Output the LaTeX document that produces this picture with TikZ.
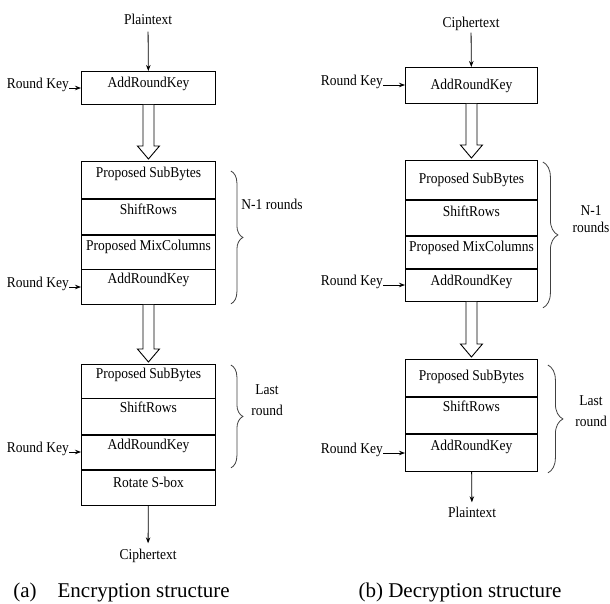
\documentclass[tikz,border=0pt]{standalone}
\usepackage{fontspec}
\setmainfont{Liberation Serif}
\newfontfamily\boxfont{Liberation Serif}[FakeStretch=0.9]
\usetikzlibrary{calc,positioning,arrows.meta,decorations.pathreplacing}
\tikzset{cell/.style 2 args={draw, line width=0.9pt, anchor=north west, inner sep=0pt, text height=#1, text depth=#2, font=\boxfont\fontsize{15}{17}\selectfont}}
\tikzstyle{enc}    = [minimum width=134pt]
\tikzstyle{dec}    = [minimum width=132pt]
\tikzstyle{txt}    = [inner sep=0pt, text height=10pt, text depth=1pt, font=\boxfont\fontsize{15}{17}\selectfont]
\tikzstyle{key}    = [txt, anchor=base east]
\tikzstyle{arrow}  = [line width=0.8pt, -{Stealth[length=6pt,width=4.5pt]}]
\tikzstyle{hollow} = [draw, line width=0.9pt, fill=white, line join=miter]
\tikzstyle{brc}    = [draw=black!75, line width=0.8pt, decorate]
\tikzstyle{caption}= [inner sep=0pt, font=\fontsize{21}{24}\selectfont]

\begin{document}
\begin{tikzpicture}[x=1pt, y=-1pt]
    \useasboundingbox (0,0) rectangle (610,603);
    % encryption
    \node[txt] (ept) at (148,20) {Plaintext};
    \node[cell={16.5pt}{16.5pt}, enc] (e0) at (81,71)    {AddRoundKey};
    \node[cell={16.5pt}{20pt}, enc]   (e1) at (81,161)   {Proposed SubBytes};
    \node[cell={16pt}{19.5pt}, enc]   (e2) at (81,198.5) {ShiftRows};
    \node[cell={15.5pt}{18.5pt}, enc] (e3) at (81,235)   {Proposed MixColumns};
    \node[cell={14.5pt}{20.5pt}, enc] (e4) at (81,269)   {AddRoundKey};
    \node[cell={14.5pt}{19.5pt}, enc] (e5) at (81,364)   {Proposed SubBytes};
    \node[cell={14.5pt}{21.5pt}, enc] (e6) at (81,398)   {ShiftRows};
    \node[cell={14.5pt}{19.5pt}, enc] (e7) at (81,435)   {AddRoundKey};
    \node[cell={17.5pt}{17.5pt}, enc] (e8) at (81,470)   {Rotate S-box};
    \node[txt] (ect) at (148,555) {Ciphertext};

    \node[key] (ek0) at (69,88)  {Round Key};
    \node[key] (ek1) at (69,287) {Round Key};
    \node[key] (ek2) at (69,452) {Round Key};

    \node[txt] (en) at (272,205) {N-1 rounds};
    \node[txt, align=center] (el) at (267,410.5) {Last\\[4pt]round};

    % decryption
    \node[txt] (dct) at (471,23) {Ciphertext};
    \node[cell={22.5pt}{13.5pt}, dec] (d0) at (405,67)  {AddRoundKey};
    \node[cell={23.5pt}{15.5pt}, dec] (d1) at (405,160) {Proposed SubBytes};
    \node[cell={16.5pt}{18.5pt}, dec] (d2) at (405,200) {ShiftRows};
    \node[cell={15.5pt}{16.5pt}, dec] (d3) at (405,236) {Proposed MixColumns};
    \node[cell={16.5pt}{15.5pt}, dec] (d4) at (405,269) {AddRoundKey};
    \node[cell={21.5pt}{15.5pt}, dec] (d5) at (405,359) {Proposed SubBytes};
    \node[cell={14.5pt}{21.5pt}, dec] (d6) at (405,397) {ShiftRows};
    \node[cell={16.5pt}{20.5pt}, dec] (d7) at (405,434) {AddRoundKey};
    \node[txt] (dpt) at (472,513) {Plaintext};

    \node[key] (dk0) at (383,85)  {Round Key};
    \node[key] (dk1) at (383,285) {Round Key};
    \node[key] (dk2) at (383,453) {Round Key};

    \node[txt, align=center] (dn) at (591,228) {N-1\\[0pt]rounds};
    \node[txt, align=center] (dl) at (591,421.5) {Last\\[4pt]round};

    \node[caption] (ea) at (121.5,592) {(a)\quad Encryption structure};
    \node[caption] (db) at (460,592) {(b) Decryption structure};

    % arrows
    \draw[arrow, shorten <=6pt] (ept) -- (e0);
    \draw[arrow, shorten >=6pt] (e8) -- (ect);
    \draw[arrow, shorten <=4pt] (dct) -- (d0);
    \draw[arrow, shorten >=5pt] (d7) -- (dpt);
    \foreach \k/\c in {ek0/e0,ek1/e4,ek2/e7,dk0/d0,dk1/d4,dk2/d7}
        \draw[arrow] (\k.base east) -- (\k.base east -| \c.west);
    \foreach \a/\b in {e0/e1,e4/e5,d0/d1,d4/d5}
        \draw[hollow] ($(\a.south)+(-5.5,0)$) -- ($(\b.north)+(-5.5,-15)$) -- ++(-5.5,0)
            -- ($(\b.north)+(0,-2)$) -- ($(\b.north)+(11,-15)$) -- ++(-5.5,0) -- ($(\a.south)+(5.5,0)$);

    % braces
    \draw[brc, decoration={brace, amplitude=12pt}] ($(e1.north east)+(15,10)$) -- ($(e4.south east)+(15,-1)$);
    \draw[brc, decoration={brace, amplitude=12pt}] ($(e5.north east)+(15,1)$) -- ($(e7.south east)+(15,-2)$);
    \draw[brc, decoration={brace, amplitude=15pt}] ($(d1.north east)+(5,2)$) -- ($(d4.south east)+(5,6)$);
    \draw[brc, decoration={brace, amplitude=15pt}] ($(d5.north east)+(10,6)$) -- ($(d7.south east)+(10,1)$);
\end{tikzpicture}
\end{document}
